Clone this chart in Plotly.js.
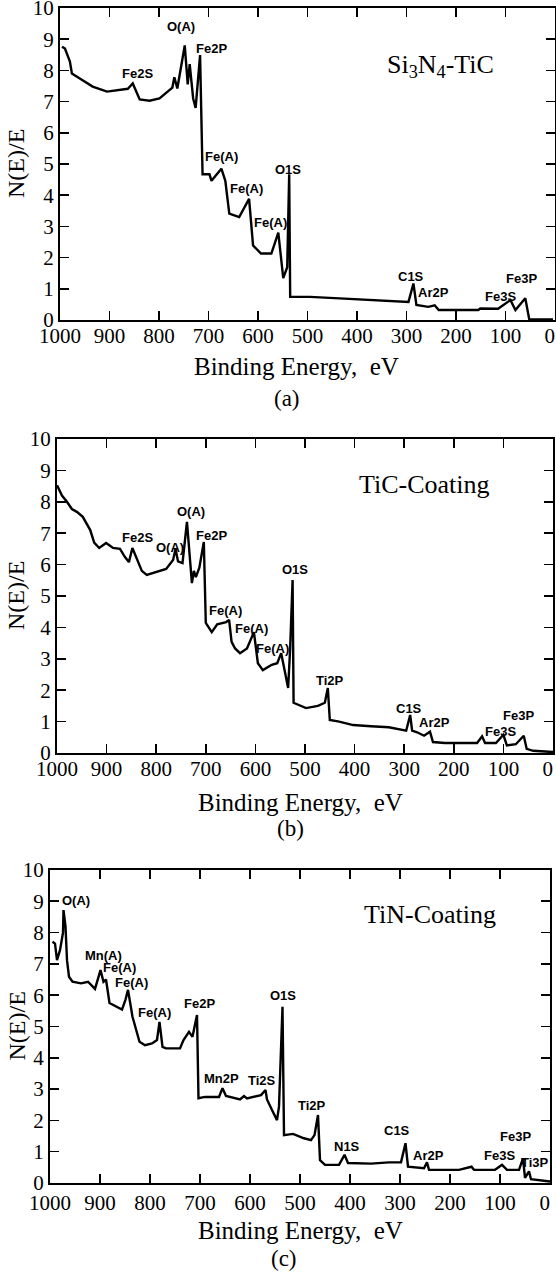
<!DOCTYPE html>
<html><head><meta charset="utf-8">
<script src="https://cdn.plot.ly/plotly-3.0.1.min.js"></script>
<style>html,body{margin:0;padding:0;background:#fff}#chart{width:556px;height:1272px}</style>
</head><body><div id="chart"></div>
<script>
// Panel (a) Si3N4-TiC
const energyA = [996,990,980,976,960,934,905,879,863,853,839,819,799,773,769,763,748,742,738,731,726,717,712,698,694,674,666,658,646,638,618,610,594,573,559,549,541,537,535,495,445,356,296,286,280,256,243,235,155,151,115,90,80,60,52,4];
const countsA = [8.76,8.70,8.28,7.90,7.74,7.48,7.32,7.38,7.41,7.58,7.07,7.03,7.10,7.45,7.78,7.42,8.80,7.55,8.20,7.10,6.80,8.49,4.67,4.67,4.46,4.85,4.46,3.41,3.35,3.30,3.88,2.39,2.13,2.13,2.80,1.34,1.69,4.67,0.74,0.74,0.70,0.64,0.58,1.17,0.48,0.42,0.47,0.32,0.32,0.37,0.36,0.64,0.32,0.70,0.02,0.02];
const labelsA = ['O(A)','Fe2P','Fe2S','Fe(A)','O1S','Fe(A)','Fe(A)','C1S','Ar2P','Fe3S','Fe3P'];
const labelXA = [755,694,843,673,540,623,575,290,245,111,68];
const labelYA = [9.4,8.7,7.9,5.25,4.83,4.2,3.12,1.38,0.88,0.74,1.33];

// Panel (b) TiC-Coating
const energyB = [1000,990,980,970,960,948,933,925,915,901,887,873,863,855,848,841,829,819,801,780,766,761,756,747,738,728,724,720,713,704,700,688,677,659,653,648,641,631,617,603,595,585,567,556,548,541,534,530,525,523,510,498,474,460,454,450,431,403,367,331,296,288,284,274,260,248,242,218,153,143,137,115,100,93,75,59,53,40,0];
const countsB = [8.53,8.20,8.00,7.77,7.68,7.52,7.10,6.70,6.53,6.69,6.53,6.50,6.24,6.08,6.53,6.24,5.80,5.67,5.76,5.86,6.15,6.50,6.10,6.05,7.36,5.41,5.80,5.60,5.90,6.72,4.14,3.85,4.10,4.17,4.24,3.54,3.33,3.18,3.33,3.85,2.86,2.64,2.81,2.86,3.18,2.60,2.07,3.30,5.51,1.60,1.50,1.43,1.50,1.60,2.07,1.05,1.00,0.89,0.85,0.82,0.71,1.21,0.71,0.66,0.55,0.68,0.35,0.32,0.32,0.53,0.32,0.32,0.58,0.24,0.28,0.55,0.13,0.07,0.03];
const labelsB = ['Fe2S','O(A)','O(A)','Fe2P','O1S','Fe(A)','Fe(A)','Fe(A)','Ti2P','C1S','Ar2P','Fe3S','Fe3P'];
const labelXB = [837,772,730,688,520,661,608,565,449,290,238,105,70];
const labelYB = [6.85,6.56,7.68,6.94,5.83,4.55,3.98,3.34,2.32,1.43,0.96,0.67,1.21];

// Panel (c) TiN-Coating
const energyC = [995,990,986,980,974,973,969,966,962,955,938,924,910,902,899,893,888,881,867,856,849,844,835,828,821,810,796,786,781,775,768,740,733,722,715,706,703,690,662,655,648,620,612,606,578,569,566,556,546,542,535,532,514,492,478,471,464,460,450,422,411,404,358,322,298,289,284,252,246,242,182,157,152,110,96,86,62,54,50,42,38,0];
const countsC = [7.71,7.65,7.12,7.44,8.00,8.72,8.20,7.12,6.59,6.43,6.38,6.43,6.20,6.60,6.80,6.43,6.50,5.75,5.64,5.54,5.86,6.17,5.31,4.89,4.51,4.40,4.46,4.57,5.15,4.35,4.30,4.30,4.57,4.83,4.67,5.37,2.71,2.75,2.75,3.03,2.78,2.67,2.78,2.70,2.81,2.97,2.67,2.33,2.01,2.44,5.63,1.53,1.57,1.43,1.37,1.53,2.17,0.73,0.58,0.58,0.90,0.64,0.62,0.66,0.66,1.27,0.52,0.47,0.66,0.42,0.42,0.52,0.42,0.42,0.58,0.42,0.42,0.79,0.16,0.37,0.12,0.05];
const labelsC = ['O(A)','Mn(A)','Fe(A)','Fe(A)','Fe(A)','Fe2P','O1S','Mn2P','Ti2S','Ti2P','N1S','C1S','Ar2P','Fe3S','Fe3P','Ti3P'];
const labelXC = [948,894,862,837,792,701,534,658,577,477,406,307,244,102,70,30];
const labelYC = [9.02,7.28,6.87,6.39,5.46,5.75,6.0,3.35,3.29,2.49,1.16,1.69,0.89,0.89,1.47,0.64];

const xTickVals = [1000,900,800,700,600,500,400,300,200,100,0];
const xTickText = ['1000','900','800','700','600','500','400','300','200','100','0\u00a0\u00a0'];
const yTickVals = [0,1,2,3,4,5,6,7,8,9,10];
const yTickText = ['0','1','2','3','4','5','6','7','8','9','10'];
const sampleNames = ['Si<sub>3</sub>N<sub>4</sub>-TiC','TiC-Coating','TiN-Coating'];
const panelCaptions = ['(a)','(b)','(c)'];
const xTitle = 'Binding Energy,\u00a0\u00a0eV';
const yTitle = 'N(E)/E';

const W = 556, H = 1272;
const SERIF = 'Liberation Serif';
const SANS = 'Liberation Sans';

// pixel geometry of each panel: [left, right, top, bottom]
const boxes = [[60,555,8,320],[57,553,439,753],[50,550,870,1183]];
const xLabelShift = [-4, -4, 0];
const xTitlePos = [[296,366],[300,802],[300,1230]];
const capPos = [[287,398],[290,828],[284,1258]];
const namePos = [[440,66],[424,484],[430,914]];

const data = [];
const layout = {
  width: W, height: H, margin: {l:0,r:0,t:0,b:0},
  paper_bgcolor: '#fff', plot_bgcolor: '#fff', showlegend: false,
  font: {family: SERIF, color: '#000'},
  annotations: []
};
const series = [[energyA,countsA,labelsA,labelXA,labelYA],[energyB,countsB,labelsB,labelXB,labelYB],[energyC,countsC,labelsC,labelXC,labelYC]];

series.forEach((s, i) => {
  const n = i === 0 ? '' : String(i + 1);
  const b = boxes[i];
  data.push({x: s[0], y: s[1], type: 'scatter', mode: 'lines', xaxis: 'x' + n, yaxis: 'y' + n,
    line: {color: '#000', width: 2.4}, hoverinfo: 'skip'});
  const common = {showline: true, linecolor: '#000', linewidth: 2, mirror: 'ticks', ticks: 'inside',
    ticklen: 9, tickwidth: 1.6, tickcolor: '#000', showgrid: false, zeroline: false,
    ticklabeloverflow: 'allow',
    tickfont: {family: SERIF, size: 21, color: '#000'}};
  layout['xaxis' + n] = Object.assign({}, common, {domain: [b[0]/W, b[1]/W], anchor: 'y' + n,
    range: [1000, 0], autorange: false, tickmode: 'array', tickvals: xTickVals, ticktext: xTickText,
    ticklabelstandoff: xLabelShift[i]});
  layout['yaxis' + n] = Object.assign({}, common, {domain: [1 - b[3]/H, 1 - b[2]/H], anchor: 'x' + n,
    range: [0, 10], autorange: false, tickmode: 'array', tickvals: yTickVals, ticktext: yTickText, ticklabelstandoff: 0});
  s[2].forEach((t, k) => {
    layout.annotations.push({text: t, x: s[3][k], y: s[4][k], xref: 'x' + n, yref: 'y' + n,
      showarrow: false, xanchor: 'center', yanchor: 'middle',
      font: {family: SANS, size: 13, color: '#000', weight: 'bold'}});
  });
  layout.annotations.push({text: yTitle, x: 16/W, y: 1 - ((b[2]+b[3])/2)/H, xref: 'paper', yref: 'paper',
    textangle: -90, showarrow: false, xanchor: 'center', yanchor: 'middle', font: {family: SERIF, size: 24, color: '#000'}});
  layout.annotations.push({text: xTitle, x: xTitlePos[i][0]/W, y: 1 - xTitlePos[i][1]/H, xref: 'paper', yref: 'paper',
    showarrow: false, xanchor: 'center', yanchor: 'middle', font: {family: SERIF, size: 25, color: '#000'}});
  layout.annotations.push({text: panelCaptions[i], x: capPos[i][0]/W, y: 1 - capPos[i][1]/H, xref: 'paper', yref: 'paper',
    showarrow: false, xanchor: 'center', yanchor: 'middle', font: {family: SERIF, size: 23, color: '#000'}});
  layout.annotations.push({text: sampleNames[i], x: namePos[i][0]/W, y: 1 - namePos[i][1]/H, xref: 'paper', yref: 'paper',
    showarrow: false, xanchor: 'center', yanchor: 'middle', font: {family: SERIF, size: 26, color: '#000'}});
});

Plotly.newPlot('chart', data, layout, {staticPlot: true, displayModeBar: false});
</script></body></html>
